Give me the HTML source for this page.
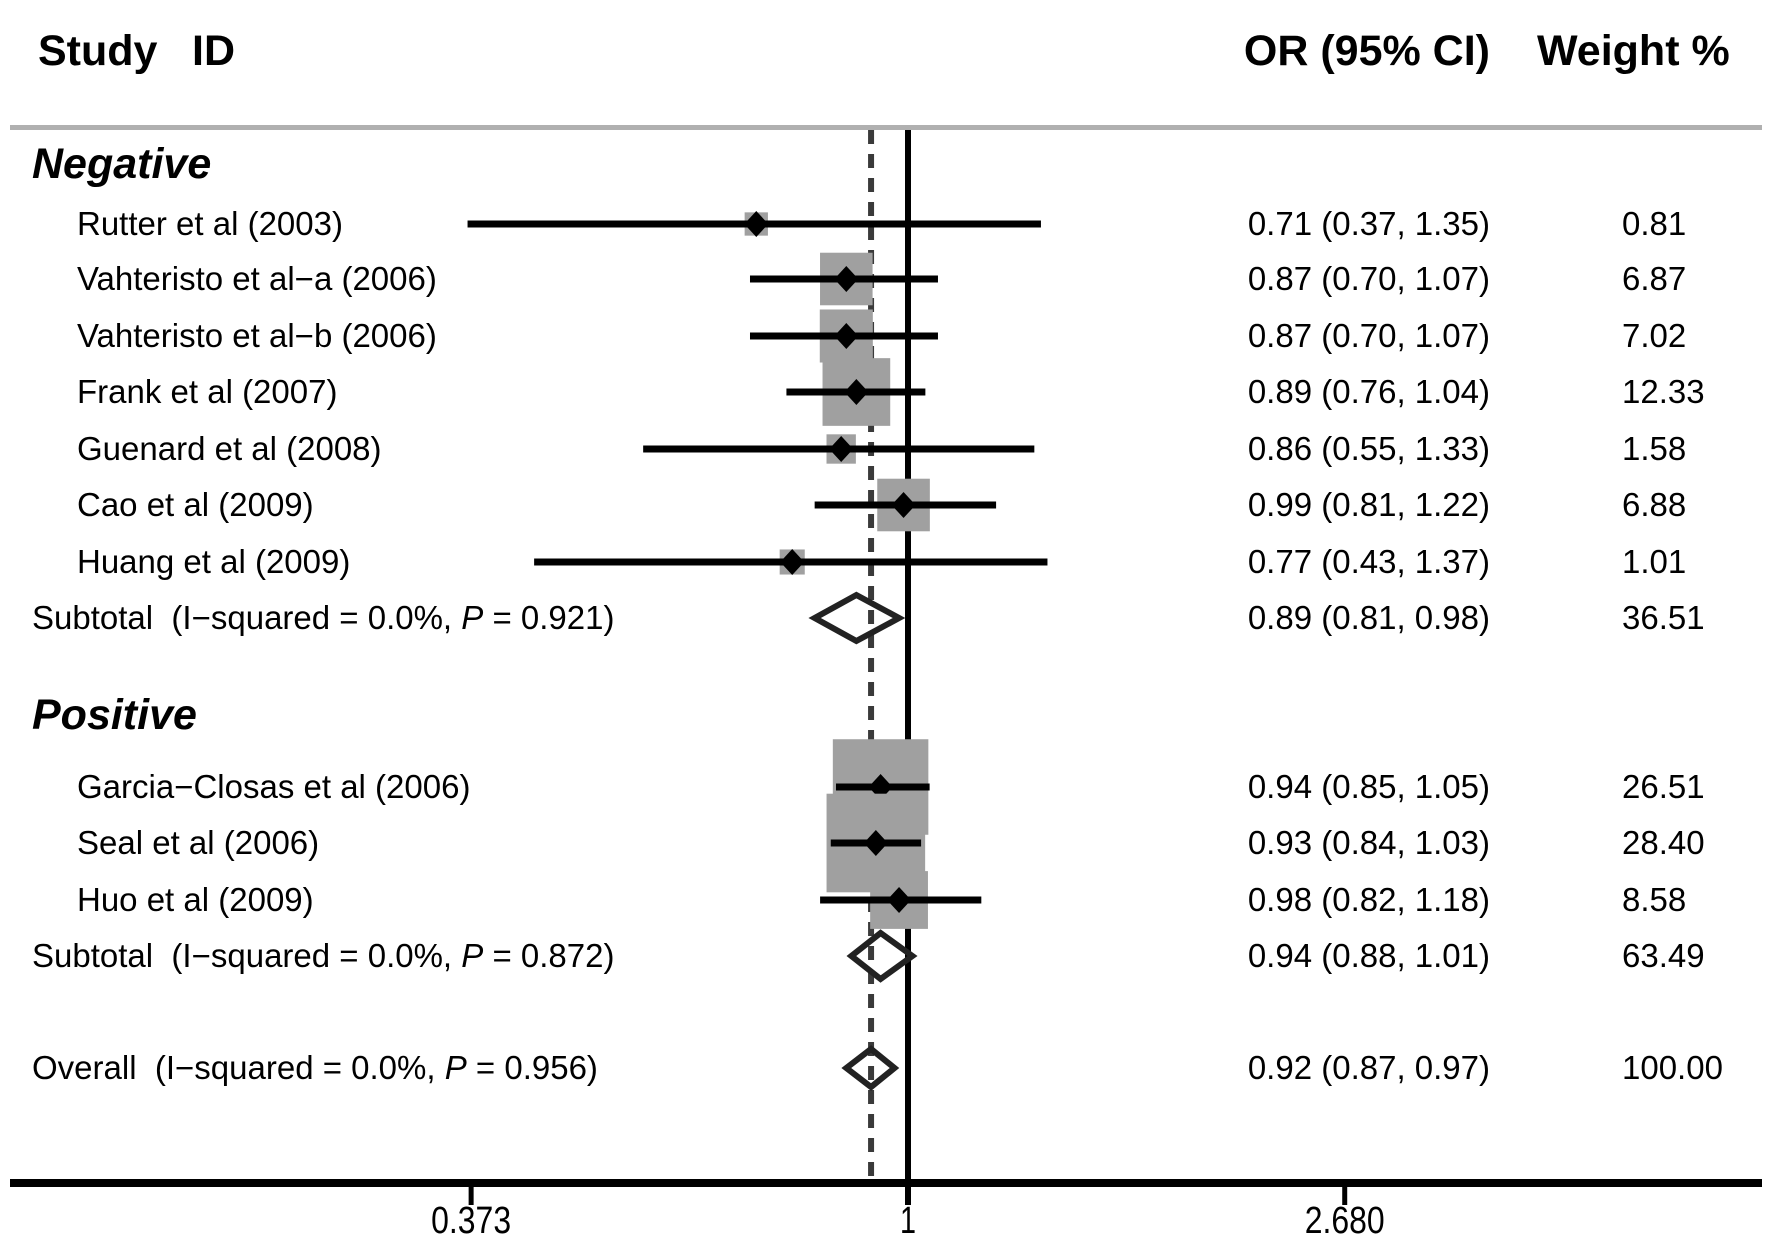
<!DOCTYPE html>
<html><head><meta charset="utf-8"><style>
html,body{margin:0;padding:0;background:#fff;}
svg{display:block;font-family:"Liberation Sans",Arial,sans-serif;}
svg text{white-space:pre;}
</style></head><body>
<svg id="chart" width="1772" height="1252" viewBox="0 0 1772 1252">
<text x="38" y="65" font-size="43" font-weight="bold">Study</text>
<text x="192" y="65" font-size="43" font-weight="bold">ID</text>
<text x="1490" y="65" font-size="43" font-weight="bold" text-anchor="end">OR (95% CI)</text>
<text x="1537" y="65" font-size="43" font-weight="bold">Weight %</text>
<rect x="10" y="125" width="1752" height="5" fill="#b0b0b0"/>
<g id="plot"></g>
</svg>
<script>
const studies = ["Rutter et al (2003)","Vahteristo et al\u2212a (2006)","Vahteristo et al\u2212b (2006)","Frank et al (2007)","Guenard et al (2008)","Cao et al (2009)","Huang et al (2009)","Garcia\u2212Closas et al (2006)","Seal et al (2006)","Huo et al (2009)"];
const orVals = [0.71,0.87,0.87,0.89,0.86,0.99,0.77,0.94,0.93,0.98];
const ciLow = [0.37,0.70,0.70,0.76,0.55,0.81,0.43,0.85,0.84,0.82];
const ciHigh = [1.35,1.07,1.07,1.04,1.33,1.22,1.37,1.05,1.03,1.18];
const weights = ["0.81","6.87","7.02","12.33","1.58","6.88","1.01","26.51","28.40","8.58"];
const studyRows = [1,2,3,4,5,6,7,10,11,12];
const groups = ["Negative","Positive"];
const groupRows = [0,9];
const summaryLabels = ["Subtotal  (I\u2212squared = 0.0%, ","Subtotal  (I\u2212squared = 0.0%, ","Overall  (I\u2212squared = 0.0%, "];
const summaryP = ["0.921","0.872","0.956"];
const summaryOR = [0.89,0.94,0.92];
const summaryLow = [0.81,0.88,0.87];
const summaryHigh = [0.98,1.01,0.97];
const summaryWeight = ["36.51","63.49","100.00"];
const summaryRows = [8,13,15];
const tickVals = [0.373,1,2.680];
const tickLabels = ["0.373","1","2.680"];
const overallOR = 0.92;

const NS="http://www.w3.org/2000/svg";
const g=document.getElementById('plot');
const rowY=[164,224,279,336,392,449,505,562,618,715,787,843,900,956,1012,1068];
const FS=33;
function xs(v){return 908+443*Math.log(v);}
function yr(r){return rowY[r];}
function mk(tag,attrs,txt){const e=document.createElementNS(NS,tag);for(const k in attrs)e.setAttribute(k,attrs[k]);if(txt!==undefined)e.textContent=txt;g.appendChild(e);return e;}
const f=v=>v.toFixed(2);

let e=mk('line',{x1:xs(overallOR),x2:xs(overallOR),y1:130,y2:1180,stroke:'#3a3a3a','stroke-width':6,'stroke-dasharray':'14,10'});


e=mk('line',{x1:xs(1),x2:xs(1),y1:130,y2:1205,stroke:'#000','stroke-width':6});



e=mk('rect',{x:10,y:1179,width:1752,height:8,fill:'#000'});


tickVals.forEach((v,i)=>{
  let t=mk('line',{x1:xs(v),x2:xs(v),y1:1183,y2:1205,stroke:'#000','stroke-width':5});
  
  
  const lab=tickLabels[i];
  let l=mk('text',{x:xs(v),y:1233,'font-size':38,'text-anchor':'middle',textLength:lab.length*16,lengthAdjust:'spacingAndGlyphs'},lab);
  
  
});

groups.forEach((n,i)=>{
  let t=mk('text',{x:32,y:yr(groupRows[i])+14,'font-size':43,'font-weight':'bold','font-style':'italic'},n);
  
  
});

studies.forEach((s,i)=>{
  const y=yr(studyRows[i]);
  let t=mk('text',{x:77,y:y+11,'font-size':FS},s);
  
  
  const side=17*Math.sqrt(parseFloat(weights[i]))+8;
  let b=mk('rect',{x:xs(orVals[i])-side/2,y:y-side/2,width:side,height:side,fill:'#a0a0a0'});
  
  
  let c=mk('line',{x1:xs(ciLow[i]),x2:xs(ciHigh[i]),y1:y,y2:y,stroke:'#000','stroke-width':7});
  
  
  const px=xs(orVals[i]);
  let d=mk('polygon',{points:`${px-12},${y} ${px},${y-13} ${px+12},${y} ${px},${y+13}`,fill:'#000'});
  
  
  let o=mk('text',{x:1490,y:y+11,'font-size':FS,'text-anchor':'end'},`${f(orVals[i])} (${f(ciLow[i])}, ${f(ciHigh[i])})`);
  
  
  let w=mk('text',{x:1622,y:y+11,'font-size':FS},weights[i]);
  
  
});

summaryLabels.forEach((s,i)=>{
  const y=yr(summaryRows[i]);
  let t=mk('text',{x:32,y:y+11,'font-size':FS},s);
  const it=document.createElementNS(NS,'tspan');it.setAttribute('font-style','italic');it.textContent='P';t.appendChild(it);
  const rest=document.createElementNS(NS,'tspan');rest.textContent=' = '+summaryP[i]+')';t.appendChild(rest);
  
  
  const h=i===2?19:23;
  const lo=xs(summaryLow[i]),hi=xs(summaryHigh[i]),m=xs(summaryOR[i]);
  let d=mk('polygon',{points:`${lo},${y} ${m},${y-h} ${hi},${y} ${m},${y+h}`,fill:'none',stroke:'#222','stroke-width':6});
  
  
  let o=mk('text',{x:1490,y:y+11,'font-size':FS,'text-anchor':'end'},`${f(summaryOR[i])} (${f(summaryLow[i])}, ${f(summaryHigh[i])})`);
  
  
  let w=mk('text',{x:1622,y:y+11,'font-size':FS},summaryWeight[i]);
  
  
});
</script>
</body></html>
